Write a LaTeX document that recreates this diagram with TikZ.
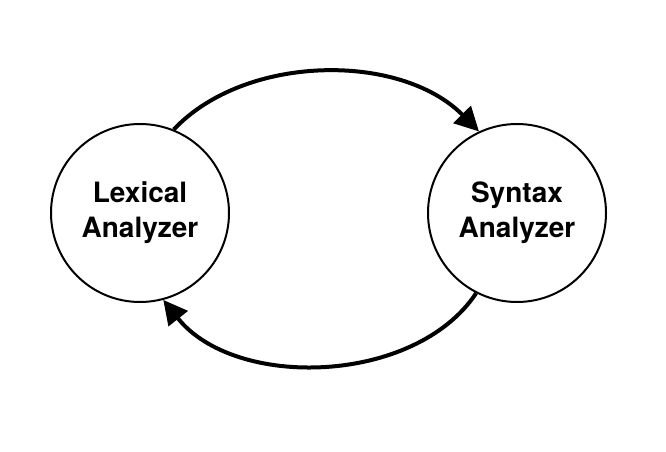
\documentclass[tikz,border=0pt]{standalone}
\usepackage{fontspec}
\setmainfont{TeX Gyre Heros}
\usetikzlibrary{arrows.meta}
\begin{document}
\begin{tikzpicture}[x=1pt,y=1pt,
  state/.style={circle,draw=black,line width=2pt,minimum size=178pt,inner sep=0pt,
    align=center,font=\fontsize{28}{35}\selectfont\bfseries},
  flow/.style={line width=4pt,-{Triangle[length=24pt,width=24pt]}}]
\useasboundingbox (0,0) rectangle (666,452);
\node[state] (L) at (140,239) {Lexical\\Analyzer};
\node[state] (S) at (517,239) {Syntax\\Analyzer};
\draw[flow] (L.68) .. controls (245,398) and (400,400) .. (S.115);
\draw[flow] (S.243) .. controls (415,67) and (235,62) .. (L.285);
\end{tikzpicture}
\end{document}
